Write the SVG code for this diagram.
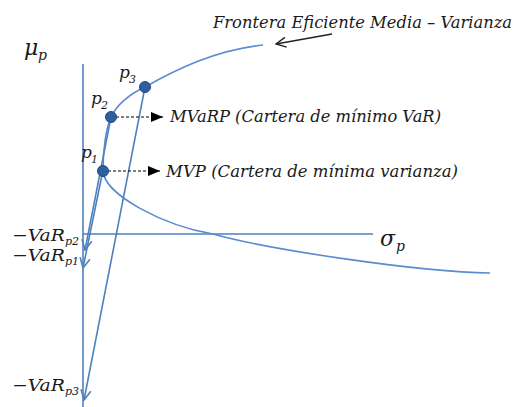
<svg xmlns="http://www.w3.org/2000/svg" width="525" height="407" viewBox="0 0 525 407">
  <style>
    .axis { stroke: #4f81bd; stroke-width: 1.6; fill: none; }
    .curve { stroke: #5b8bd0; stroke-width: 1.6; fill: none; }
    .proj { stroke: #4f81bd; stroke-width: 1.6; fill: none; marker-end: url(#openBlue); }
    .dash { stroke: #000; stroke-width: 1.2; stroke-dasharray: 3 2; fill: none; marker-end: url(#solidBlack); }
    .dot { fill: #2f5f9e; stroke: #1f4a80; stroke-width: 1; }
    .t { font-family: "DejaVu Serif", "Liberation Serif", serif; font-style: italic; fill: #1a1a1a; }
    .lbl { font-size: 17px; }
    .sym { font-size: 22px; }
    .sub { font-size: 11px; }
    .symsub { font-size: 14px; }
  </style>
  <defs>
    <marker id="openBlue" viewBox="0 0 12 12" refX="11" refY="6" markerWidth="12" markerHeight="12" markerUnits="userSpaceOnUse" orient="auto">
      <path d="M1,1 L11,6 L1,11" fill="none" stroke="#4f81bd" stroke-width="1.6"/>
    </marker>
    <marker id="solidBlack" viewBox="0 0 12 10" refX="12" refY="5" markerWidth="12" markerHeight="10" markerUnits="userSpaceOnUse" orient="auto">
      <path d="M0,0 L12,5 L0,10 Z" fill="#000"/>
    </marker>
    <marker id="openBlack" viewBox="0 0 12 12" refX="11" refY="6" markerWidth="12" markerHeight="12" markerUnits="userSpaceOnUse" orient="auto">
      <path d="M1,1 L11,6 L1,11" fill="none" stroke="#222" stroke-width="1.4"/>
    </marker>
  </defs>

  <!-- axes -->
  <g id="axes">
    <line class="axis" x1="83" y1="64" x2="83" y2="407"/>
    <line class="axis" x1="83" y1="234" x2="373" y2="234"/>
    <text class="t sym" x="24" y="55">μ</text>
    <text class="t symsub" x="38" y="60">p</text>
    <text class="t sym" x="380" y="246">σ</text>
    <text class="t symsub" x="396" y="251">p</text>
  </g>

  <!-- mean-variance frontier -->
  <g id="frontier">
    <path class="curve" d="M263,45 C215,50 175,70 145,87 C130,94 118,103 111,117 C106,128 103,150 103,170 C103,195 165,226 213,234 C270,250 420,272 490,273"/>
    <text class="t lbl" x="213" y="28" textLength="299" lengthAdjust="spacingAndGlyphs">Frontera Eficiente Media – Varianza</text>
  </g>

  <!-- connectors -->
  <g id="connectors">
    <line x1="332" y1="34" x2="276" y2="44" stroke="#222" stroke-width="1.4" marker-end="url(#openBlack)"/>
    <line class="proj" x1="111" y1="117" x2="85" y2="250"/>
    <line class="proj" x1="103" y1="170" x2="83" y2="268"/>
    <line class="proj" x1="145" y1="87" x2="84" y2="400"/>
    <line class="dash" x1="116" y1="117" x2="163" y2="117"/>
    <line class="dash" x1="108" y1="171" x2="160" y2="171"/>
  </g>

  <g id="p3">
    <circle class="dot" cx="145" cy="87" r="5.5"/>
    <text class="t lbl" x="119" y="78">p<tspan class="sub" x="129" y="83">3</tspan></text>
  </g>
  <g id="p2">
    <circle class="dot" cx="111" cy="117" r="5.5"/>
    <text class="t lbl" x="91" y="104">p<tspan class="sub" x="101" y="109">2</tspan></text>
    <text class="t lbl" x="170" y="122" textLength="271" lengthAdjust="spacingAndGlyphs">MVaRP (Cartera de mínimo VaR)</text>
  </g>
  <g id="p1">
    <circle class="dot" cx="103" cy="171" r="5.5"/>
    <text class="t lbl" x="81" y="158">p<tspan class="sub" x="91" y="163">1</tspan></text>
    <text class="t lbl" x="166" y="177" textLength="292" lengthAdjust="spacingAndGlyphs">MVP (Cartera de mínima varianza)</text>
  </g>

  <!-- VaR levels on the vertical axis -->
  <g id="var-labels">
    <text class="t lbl" x="12" y="241" textLength="53" lengthAdjust="spacingAndGlyphs">−VaR</text>
    <text class="t sub" x="65" y="245">p2</text>
    <text class="t lbl" x="12" y="261" textLength="53" lengthAdjust="spacingAndGlyphs">−VaR</text>
    <text class="t sub" x="65" y="265">p1</text>
    <text class="t lbl" x="12" y="391" textLength="53" lengthAdjust="spacingAndGlyphs">−VaR</text>
    <text class="t sub" x="65" y="395">p3</text>
  </g>
</svg>
